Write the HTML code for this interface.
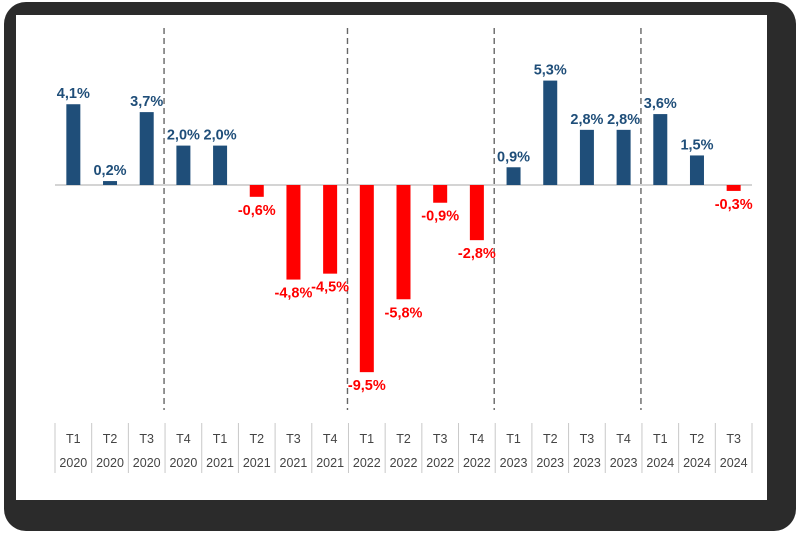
<!DOCTYPE html>
<html><head><meta charset="utf-8"><style>
body{margin:0;background:#fff;width:800px;height:533px;overflow:hidden}
svg{display:block;font-family:"Liberation Sans",sans-serif}
</style></head><body>
<svg id="chart" width="800" height="533">
<rect x="4" y="2" width="792" height="529" rx="22" fill="#2b2b2b"/>
<rect x="16" y="15" width="751" height="485" fill="#fff"/>
<g id="plot"></g>
</svg>
<script>
const quarters=["T1","T2","T3","T4","T1","T2","T3","T4","T1","T2","T3","T4","T1","T2","T3","T4","T1","T2","T3"];
const years=["2020","2020","2020","2020","2021","2021","2021","2021","2022","2022","2022","2022","2023","2023","2023","2023","2024","2024","2024"];
const values=[4.1,0.2,3.7,2.0,2.0,-0.6,-4.8,-4.5,-9.5,-5.8,-0.9,-2.8,0.9,5.3,2.8,2.8,3.6,1.5,-0.3];
const yearBreaks=[3,8,12,16];
const NS="http://www.w3.org/2000/svg";
const g=document.getElementById('plot');
const x0=55,x1=752,n=values.length,step=(x1-x0)/n;
const y0=185,ppu=19.7;
const xb=i=>x0+step*i;
const xc=i=>x0+step*(i+0.5);
const y=v=>y0-v*ppu;
function mk(t,a){const e=document.createElementNS(NS,t);for(const k in a)e.setAttribute(k,a[k]);g.appendChild(e);return e;}
yearBreaks.forEach(b=>{const l=mk('line',{x1:xb(b)-1,x2:xb(b)-1,y1:28,y2:410,stroke:'#666','stroke-width':1.4,'stroke-dasharray':'6,4'});

});
const zl=mk('line',{x1:x0,x2:x1,y1:y0,y2:y0,stroke:'#aaa','stroke-width':1});


values.forEach((v,i)=>{
 const pos=v>=0;
 const r=mk('rect',{x:xc(i)-7,width:14,y:Math.min(y(v),y0),height:Math.abs(y(v)-y0),fill:pos?'#1f4e79':'#ff0000'});
 
 
 const t=mk('text',{x:xc(i),y:pos?y(v)-6:y(v)+18,'text-anchor':'middle','font-size':14.5,'font-weight':'bold',fill:pos?'#1f4e79':'#ff0000'});
 t.textContent=v.toFixed(1).replace('.',',')+'%';
 
 
});
for(let i=0;i<=n;i++){const l=mk('line',{x1:xb(i),x2:xb(i),y1:423,y2:473,stroke:'#c8c8c8','stroke-width':1});

}
quarters.forEach((q,i)=>{
 const a=mk('text',{x:xc(i),y:443,'text-anchor':'middle','font-size':12.5,fill:'#444'});a.textContent=q;
 
 
 const b=mk('text',{x:xc(i),y:467,'text-anchor':'middle','font-size':12.5,fill:'#444'});b.textContent=years[i];
 
 
});
</script>
</body></html>
